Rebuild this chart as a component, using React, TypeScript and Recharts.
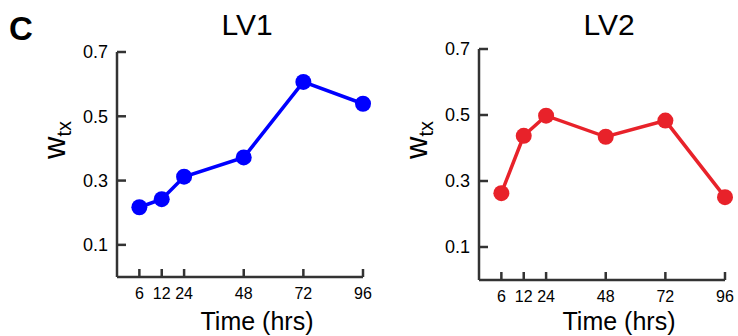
import { LineChart, Line, XAxis, YAxis, Label } from "recharts";

// time points (hrs) and where they sit on the drawn time axis
const timeLabels = ["6", "12", "24", "48", "72", "96"];
const timePos = [6, 15, 24, 48, 72, 96];

const lv1Weights = [0.217, 0.242, 0.312, 0.372, 0.607, 0.539];
const lv2Weights = [0.263, 0.437, 0.498, 0.434, 0.483, 0.251];

const yTicks = [0.1, 0.3, 0.5, 0.7];

const FONT = "'Liberation Sans', Arial, sans-serif";
const AXIS = "#333333";

function buildRows(values: number[]) {
  return timePos.map((pos, i) => ({ pos, label: timeLabels[i], w: values[i] }));
}

const posToLabel = (v: number) => {
  const i = timePos.indexOf(v);
  return i >= 0 ? timeLabels[i] : "";
};

interface PanelProps {
  title: string;
  values: number[];
  color: string;
  left: number;
  width: number;
  yAxisWidth: number;
  top: number;
  bottom: number;
  right: number;
}

function Panel({ title, values, color, left, width, yAxisWidth, top, bottom, right }: PanelProps) {
  const data = buildRows(values);
  const plotW = width - yAxisWidth - right;
  return (
    <div style={{ position: "absolute", left, top: 0, width, height: 336 }}>
      <div
        style={{
          position: "absolute",
          left: yAxisWidth + plotW / 2 + 7 - 60,
          width: 120,
          top: 8,
          textAlign: "center",
          fontFamily: FONT,
          fontSize: 30,
          lineHeight: "34px",
          color: "#000",
        }}
      >
        {title}
      </div>
      <LineChart width={width} height={336} data={data} margin={{ top, right, bottom: 0, left: 0 }}>
        <XAxis
          dataKey="pos"
          type="number"
          domain={[-3, 96]}
          ticks={timePos}
          tickFormatter={posToLabel}
          height={bottom}
          tickSize={-8}
          tickMargin={19}
          axisLine={{ stroke: AXIS, strokeWidth: 2.5 }}
          tickLine={{ stroke: AXIS, strokeWidth: 2.5 }}
          tick={{ fill: "#000", fontSize: 16, fontFamily: FONT }}
        >
          <Label
            content={(props: any) => {
              const vb = props.viewBox || {};
              return (
                <text
                  x={vb.x + vb.width / 2 + 17}
                  y={330}
                  textAnchor="middle"
                  fontSize={25}
                  fontFamily={FONT}
                  fill="#000"
                >
                  Time (hrs)
                </text>
              );
            }}
          />
        </XAxis>
        <YAxis
          type="number"
          domain={[0, 0.7]}
          ticks={yTicks}
          width={yAxisWidth}
          tickSize={-9}
          tickMargin={18}
          tickFormatter={(v: number) => v.toFixed(1)}
          axisLine={{ stroke: AXIS, strokeWidth: 2.5 }}
          tickLine={{ stroke: AXIS, strokeWidth: 2.5 }}
          tick={{ fill: "#000", fontSize: 18, fontFamily: FONT }}
        >
          <Label
            content={(props: any) => {
              const vb = props.viewBox || {};
              const cx = vb.x + vb.width - 52;
              const cy = 140;
              return (
                <text
                  x={cx}
                  y={cy}
                  transform={`rotate(-90, ${cx}, ${cy})`}
                  textAnchor="middle"
                  fontFamily={FONT}
                  fill="#000"
                >
                  <tspan fontSize={31}>w</tspan>
                  <tspan fontSize={20} dy={6}>tx</tspan>
                </text>
              );
            }}
          />
        </YAxis>
        <Line
          type="linear"
          dataKey="w"
          stroke={color}
          strokeWidth={3.5}
          dot={{ r: 8, fill: color, stroke: color, strokeWidth: 0 }}
          activeDot={false}
          isAnimationActive={false}
        />
      </LineChart>
    </div>
  );
}

export default function App() {
  return (
    <div style={{ position: "absolute", left: 0, top: 0, width: 738, height: 336, background: "#fff", overflow: "hidden" }}>
      <div
        style={{
          position: "absolute",
          left: 9,
          top: 10,
          fontFamily: FONT,
          fontWeight: "bold",
          fontSize: 33,
          lineHeight: "37px",
          color: "#000",
        }}
      >
        C
      </div>
      <Panel title="LV1" values={lv1Weights} color="#0000ff" left={0} width={380} yAxisWidth={117} top={52} bottom={59} right={17} />
      <Panel title="LV2" values={lv2Weights} color="#e8222a" left={370} width={368} yAxisWidth={109} top={49} bottom={56} right={13} />
    </div>
  );
}
